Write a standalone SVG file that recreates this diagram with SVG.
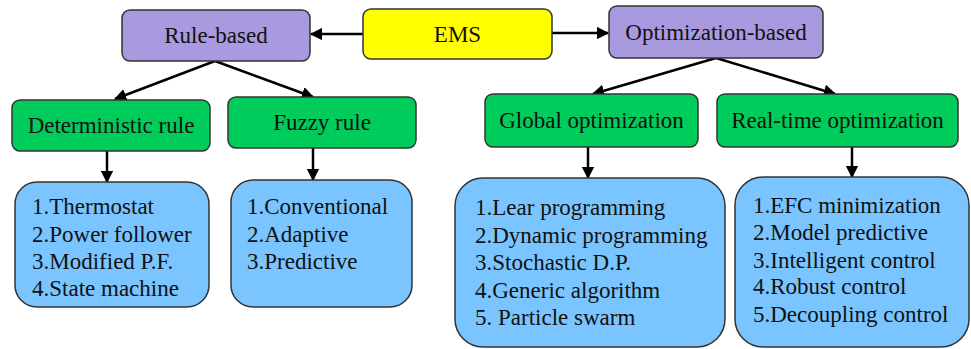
<svg xmlns="http://www.w3.org/2000/svg" width="971" height="349" viewBox="0 0 971 349">
<defs>
<style>
.box{stroke:#333;stroke-width:1.5}
.purple{fill:#A99ADF}
.yellow{fill:#FFFF00}
.green{fill:#00CC5C}
.blue{fill:#7AC5FF}
text{font-family:"Liberation Serif","Times New Roman",serif;font-size:23px;fill:#111}
.c{text-anchor:middle}
.conn{stroke:#000;stroke-width:2.5;fill:none;marker-end:url(#ah)}
</style>
<marker id="ah" viewBox="0 0 10 10" refX="9" refY="5" markerWidth="5" markerHeight="5" markerUnits="strokeWidth" orient="auto">
<path d="M0,0 L10,5 L0,10 z" fill="#000"/>
</marker>
</defs>
<rect width="971" height="349" fill="#fff"/>
<g id="connectors">
<line class="conn" x1="363" y1="34" x2="311" y2="34"/>
<line class="conn" x1="552" y1="33" x2="608" y2="33"/>
<line class="conn" x1="215" y1="61" x2="115" y2="99"/>
<line class="conn" x1="215" y1="61" x2="313" y2="97"/>
<line class="conn" x1="716" y1="58" x2="593" y2="94"/>
<line class="conn" x1="716" y1="58" x2="835" y2="94"/>
<line class="conn" x1="107" y1="151" x2="107" y2="182"/>
<line class="conn" x1="313" y1="148" x2="313" y2="180"/>
<line class="conn" x1="588" y1="147" x2="588" y2="178"/>
<line class="conn" x1="852" y1="147" x2="852" y2="177"/>
</g>
<g id="ems">
<rect class="box yellow" x="363" y="9" width="189" height="50" rx="8"/>
<text class="c" x="457.5" y="42">EMS</text>
</g>
<g id="rule-based">
<rect class="box purple" x="122" y="10" width="188" height="51" rx="8"/>
<text class="c" x="216" y="43">Rule-based</text>
</g>
<g id="optimization-based">
<rect class="box purple" x="609" y="6" width="214" height="52" rx="8"/>
<text class="c" x="716" y="40">Optimization-based</text>
</g>
<g id="deterministic-rule">
<rect class="box green" x="12" y="100" width="198" height="51" rx="8"/>
<text class="c" x="111" y="133">Deterministic rule</text>
</g>
<g id="fuzzy-rule">
<rect class="box green" x="228" y="97" width="188" height="51" rx="8"/>
<text class="c" x="322" y="130">Fuzzy rule</text>
</g>
<g id="global-optimization">
<rect class="box green" x="485" y="94" width="213" height="53" rx="8"/>
<text class="c" x="591.5" y="128">Global optimization</text>
</g>
<g id="real-time-optimization">
<rect class="box green" x="717" y="94" width="241" height="53" rx="8"/>
<text class="c" x="837.5" y="128">Real-time optimization</text>
</g>
<g id="deterministic-list">
<rect class="box blue" x="15" y="182" width="194" height="125" rx="22"/>
<text x="32" y="214">1.Thermostat</text>
<text x="32" y="242">2.Power follower</text>
<text x="32" y="269">3.Modified P.F.</text>
<text x="32" y="296">4.State machine</text>
</g>
<g id="fuzzy-list">
<rect class="box blue" x="231" y="180" width="181" height="127" rx="22"/>
<text x="247" y="214">1.Conventional</text>
<text x="247" y="242">2.Adaptive</text>
<text x="247" y="269">3.Predictive</text>
</g>
<g id="global-list">
<rect class="box blue" x="455" y="178" width="270" height="169" rx="28"/>
<text x="475" y="215">1.Lear programming</text>
<text x="475" y="243">2.Dynamic programming</text>
<text x="475" y="270">3.Stochastic D.P.</text>
<text x="475" y="298">4.Generic algorithm</text>
<text x="475" y="325">5. Particle swarm</text>
</g>
<g id="real-time-list">
<rect class="box blue" x="735" y="177" width="234" height="170" rx="28"/>
<text x="753" y="213">1.EFC minimization</text>
<text x="753" y="240">2.Model predictive</text>
<text x="753" y="268">3.Intelligent control</text>
<text x="753" y="294">4.Robust control</text>
<text x="753" y="322">5.Decoupling control</text>
</g>
</svg>
